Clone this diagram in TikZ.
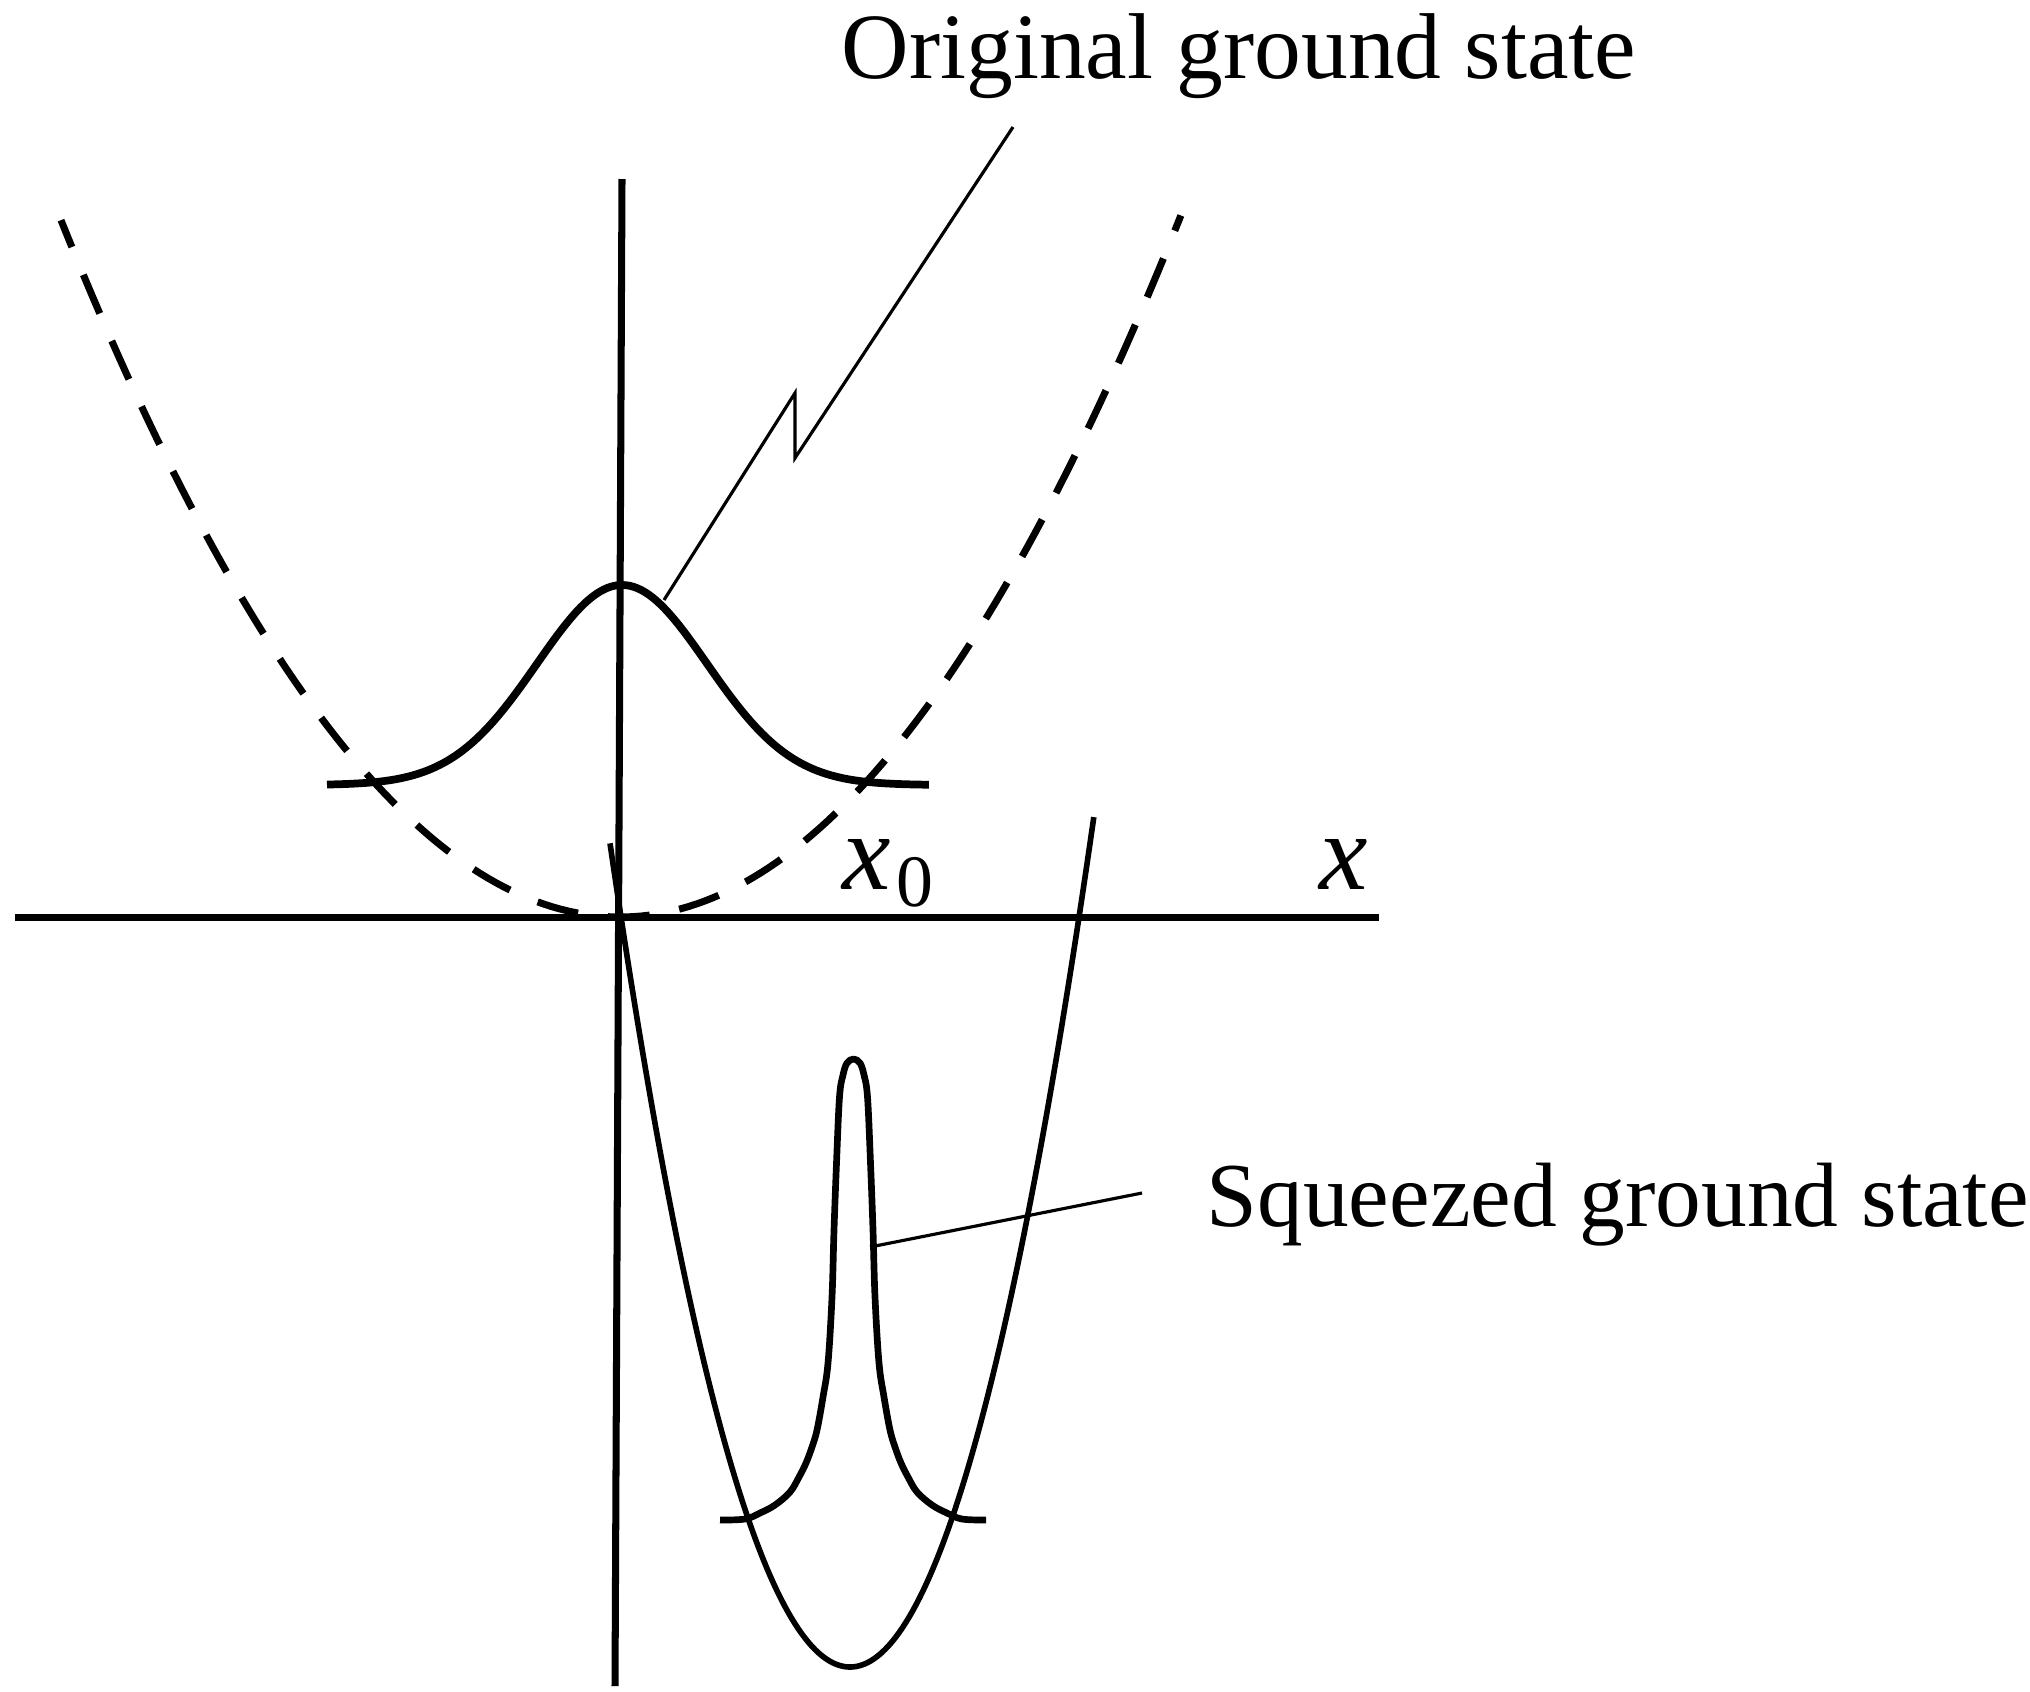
\documentclass[tikz,border=0pt]{standalone}
\usepackage{fontspec}
\setmainfont{Liberation Serif}
\begin{document}
\begin{tikzpicture}[x=1cm,y=-1cm,
  axis/.style={line width=2pt},
  dashcurve/.style={line width=2pt, dash pattern=on 0.42cm off 0.30cm, dash phase=0.13cm},
  gauss/.style={line width=2.2pt},
  well/.style={line width=1.6pt},
  peak/.style={line width=1.9pt, line join=round},
  leader/.style={line width=0.9pt},
  lbl/.style={inner sep=0pt, font=\fontsize{26}{26}\selectfont},
  mathlbl/.style={inner sep=0pt, font=\fontsize{31}{31}\selectfont\itshape}]
\useasboundingbox (0,0) rectangle (20.30,16.91);

% axes
\draw[axis] (0.15,9.17) -- (13.79,9.17);
\draw[axis] (6.22,1.79) -- (6.15,16.86);

% original (dashed) potential
\draw[dashcurve] plot[domain=0.61:11.81, samples=140] (\x,{9.17-0.223*(\x-6.20)*(\x-6.20)});

% original ground state
\draw[gauss] plot[domain=3.27:9.29, samples=160] (\x,{7.85-2.0*exp(-((\x-6.22)*(\x-6.22))/(2*0.85*0.85))});

% squeezed (shifted) potential
\draw[well] plot[domain=6.10:10.94, samples=140] (\x,{16.67-1.43*(\x-8.50)*(\x-8.50)});

% squeezed ground state
\draw[peak] plot[smooth, tension=0.6] coordinates {
  (7.20,15.20) (7.45,15.19) (7.60,15.13) (7.75,15.05) (7.90,14.92) (7.99,14.77)
  (8.06,14.63) (8.12,14.47) (8.17,14.30) (8.23,13.97) (8.28,13.63) (8.32,12.97)
  (8.34,12.30) (8.365,11.63) (8.395,10.97) (8.43,10.75) (8.47,10.63) (8.535,10.59)
  (8.60,10.63) (8.64,10.75)
  (8.675,10.97) (8.705,11.63) (8.73,12.30) (8.75,12.97) (8.79,13.63) (8.84,13.97)
  (8.90,14.30) (8.95,14.47) (9.01,14.63) (9.08,14.77) (9.17,14.92) (9.32,15.05)
  (9.47,15.13) (9.62,15.19) (9.86,15.20)};

% labels
\node[lbl, anchor=base west, font=\fontsize{26.6}{26.6}\selectfont] (orig) at (8.41,0.78) {Original ground state};
\node[lbl, anchor=base west] (sq) at (12.06,12.26) {Squeezed ground state};
\node[mathlbl, anchor=base west] (xl) at (13.19,8.89) {x};
\node[mathlbl, anchor=base west] (x0l) at (8.42,8.89) {x\kern0.05cm\raisebox{-0.17cm}{\upshape\fontsize{21}{21}\selectfont 0}};

% leader lines
\coordinate (oa) at (6.64,6.00);
\coordinate (ob) at (7.95,3.93);
\coordinate (oc) at (7.95,4.58);
\coordinate (od) at (10.13,1.27);
\draw[leader, line join=miter] (oa) -- (ob) -- (oc) -- (od);
\coordinate (sa) at (8.70,12.47);
\coordinate (sb) at (11.42,11.93);
\draw[leader] (sa) -- (sb);
\end{tikzpicture}
\end{document}
